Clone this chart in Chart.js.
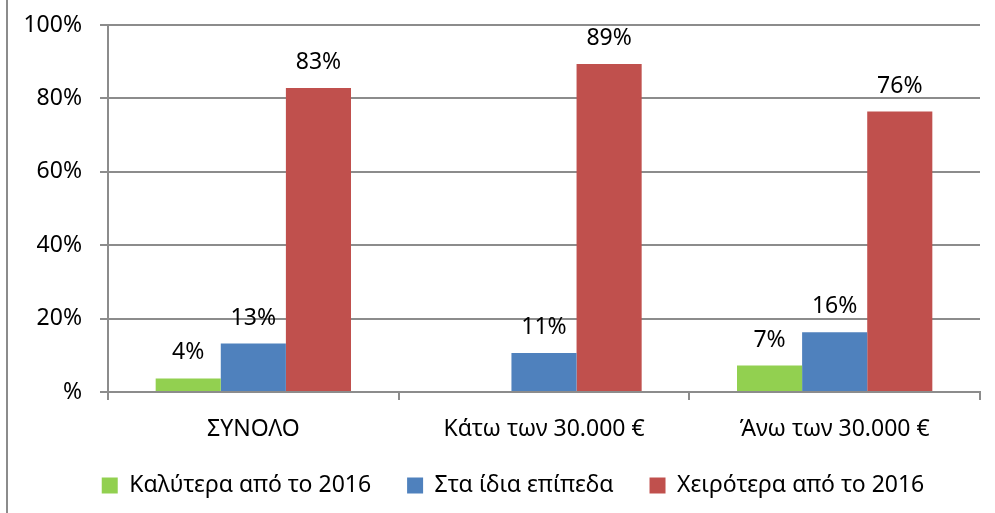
<!DOCTYPE html>
<html>
<head>
<meta charset="utf-8">
<script src="https://cdn.jsdelivr.net/npm/chart.js@4/dist/chart.umd.min.js"></script>
<style>
  html, body { margin: 0; padding: 0; background: #fff; }
  #wrap { width: 995px; height: 513px; position: relative; }
</style>
</head>
<body>
<div id="wrap"><canvas id="barChart"></canvas></div>
<script>
const categories = ['ΣΥΝΟΛΟ', 'Κάτω των 30.000 €', 'Άνω των 30.000 €'];
const seriesNames = ['Καλύτερα από το 2016', 'Στα ίδια επίπεδα', 'Χειρότερα από το 2016'];
const betterValues = [3.7, null, 7.2];
const sameValues = [13.2, 10.6, 16.3];
const worseValues = [82.8, 89.4, 76.4];
const yTicks = [0, 20, 40, 60, 80, 100];

const FONT = "'Noto Sans', sans-serif";
const FONT_SIZE = 23;

// labels above each bar
const barLabels = {
    id: 'barLabels',
    afterDatasetsDraw(chart) {
        const ctx = chart.ctx;
        ctx.save();
        ctx.font = FONT_SIZE + 'px ' + FONT;
        ctx.fillStyle = '#000';
        ctx.textAlign = 'center';
        ctx.textBaseline = 'alphabetic';
        chart.data.datasets.forEach((ds, i) => {
            chart.getDatasetMeta(i).data.forEach((bar, j) => {
                const v = ds.data[j];
                if (v === null) return;
                ctx.fillText(Math.round(v) + '%', bar.x, bar.y - 19);
            });
        });
        ctx.restore();
    }
};

// nudge the legend so it sits where the original has it
const legendShift = {
    id: 'legendShift',
    afterLayout(chart) {
        const lg = chart.legend;
        lg.left += 15; lg.right += 15;
        lg.top -= 6; lg.bottom -= 6;
    }
};

// grey frame line on the left edge
const frame = {
    id: 'frame',
    afterDraw(chart) {
        const ctx = chart.ctx;
        ctx.save();
        ctx.strokeStyle = '#8c8c8c';
        ctx.lineWidth = 2;
        ctx.beginPath();
        ctx.moveTo(7, 0);
        ctx.lineTo(7, chart.height);
        ctx.stroke();
        ctx.restore();
    }
};

const ctx = document.getElementById('barChart').getContext('2d');
new Chart(ctx, {
    type: 'bar',
    data: {
        labels: categories,
        datasets: [
            { label: seriesNames[0], data: betterValues, backgroundColor: '#92d050' },
            { label: seriesNames[1], data: sameValues, backgroundColor: '#4f81bd' },
            { label: seriesNames[2], data: worseValues, backgroundColor: '#c0504d' }
        ]
    },
    options: {
        responsive: true,
        maintainAspectRatio: false,
        animation: false,
        layout: { padding: { left: 16, right: 15, top: 25, bottom: 0 } },
        datasets: { bar: { categoryPercentage: 0.672, barPercentage: 1 } },
        scales: {
            x: {
                offset: true,
                grid: {
                    offset: true,
                    drawOnChartArea: false,
                    drawTicks: true,
                    tickLength: 8,
                    color: '#8c8c8c',
                    lineWidth: 2
                },
                border: { color: '#8c8c8c', width: 2 },
                ticks: { color: '#000', font: { family: FONT, size: FONT_SIZE }, padding: 16 },
                afterFit(scale) { scale.height = 52; }
            },
            y: {
                min: 0,
                max: 100,
                afterBuildTicks(scale) { scale.ticks = yTicks.map(v => ({ value: v })); },
                grid: { color: '#8c8c8c', lineWidth: 2, tickLength: 8 },
                border: { color: '#8c8c8c', width: 2 },
                ticks: {
                    color: '#000',
                    font: { family: FONT, size: FONT_SIZE },
                    padding: 18,
                    callback: v => v === 0 ? '%' : v + '%'
                },
                afterFit(scale) {
                    scale.width = 92;
                    scale.paddingTop = 0;
                    scale.paddingBottom = 0;
                }
            }
        },
        plugins: {
            legend: {
                position: 'bottom',
                labels: {
                    boxWidth: 16,
                    boxHeight: 16,
                    padding: 36,
                    color: '#000',
                    font: { family: FONT, size: FONT_SIZE }
                }
            },
            tooltip: { enabled: false }
        }
    },
    plugins: [barLabels, legendShift, frame]
});
</script>
</body>
</html>
